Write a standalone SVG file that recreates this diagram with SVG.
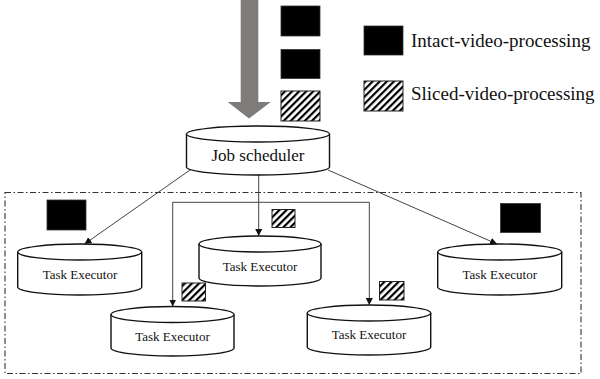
<svg xmlns="http://www.w3.org/2000/svg" width="600" height="379" viewBox="0 0 600 379">
  <defs>
    <pattern id="hatch" width="5" height="5" patternUnits="userSpaceOnUse" patternTransform="rotate(45)">
      <rect width="5" height="5" fill="#fff"/>
      <rect width="2.2" height="5" fill="#000"/>
    </pattern>
    <marker id="arrow" viewBox="0 0 10 10" refX="10" refY="5" markerWidth="7" markerHeight="7" orient="auto" markerUnits="userSpaceOnUse">
      <path d="M0,0 L10,5 L0,10 Z" fill="#111"/>
    </marker>
    <style>
      .cyl { fill: #fff; stroke: #111; stroke-width: 1.4; }
      .lbl { font-family: "Liberation Serif", "Times New Roman", serif; fill: #111; text-anchor: middle; }
      .task { font-size: 13px; }
      .legend { font-family: "Liberation Serif", "Times New Roman", serif; font-size: 19px; fill: #111; }
      .solid { fill: #000; stroke: #333; stroke-width: 0.8; }
      .hatched { fill: url(#hatch); stroke: #222; stroke-width: 1; }
      .conn { fill: none; stroke: #444; stroke-width: 1; }
      .frame { fill: none; stroke: #333; stroke-width: 1.1; stroke-dasharray: 6 2.5 1.5 2.5; }
    </style>
  </defs>

  <!-- executor pool boundary -->
  <rect class="frame" x="5" y="192.5" width="576" height="181"/>

  <!-- incoming job stream -->
  <g id="inflow">
    <path d="M240.7,0 L258.3,0 L258.3,102 L270.7,102 L249,118.5 L227.7,102 L240.7,102 Z" fill="#7f7b7b"/>
    <rect class="solid" x="281" y="6" width="39" height="30" fill="#111"/>
    <rect class="solid" x="281" y="49.5" width="39" height="29"/>
    <rect class="hatched" x="281" y="91" width="39" height="30"/>
  </g>

  <!-- legend -->
  <g id="legend">
    <rect class="solid" x="364" y="26" width="39" height="29"/>
    <text class="legend" x="411" y="47">Intact-video-processing</text>
    <rect class="hatched" x="364" y="81" width="39" height="30"/>
    <text class="legend" x="411" y="100">Sliced-video-processing</text>
  </g>

  <!-- connectors -->
  <g id="connectors">
    <line class="conn" x1="190" y1="170" x2="84.5" y2="244" marker-end="url(#arrow)"/>
    <line class="conn" x1="328" y1="170" x2="497" y2="244" marker-end="url(#arrow)"/>
    <line class="conn" x1="258.7" y1="175" x2="258.7" y2="236" marker-end="url(#arrow)"/>
    <path class="conn" d="M258.7,202.3 L172.7,202.3 L172.7,306.5" marker-end="url(#arrow)"/>
    <path class="conn" d="M258.7,202.3 L369.3,202.3 L369.3,305" marker-end="url(#arrow)"/>
  </g>

  <!-- scheduler -->
  <g id="job-scheduler">
    <path class="cyl" d="M186.5,134 L186.5,167 A71.5,8 0 0 0 329.5,167 L329.5,134"/>
    <ellipse class="cyl" cx="258" cy="134" rx="71.5" ry="8"/>
    <text class="lbl" x="258" y="161" font-size="17">Job scheduler</text>
  </g>

  <!-- executors -->
  <g id="executor-1">
    <path class="cyl" d="M17.7,252 L17.7,287 A62,8 0 0 0 141.7,287 L141.7,252"/>
    <ellipse class="cyl" cx="79.7" cy="252" rx="62" ry="8"/>
    <text class="lbl task" x="80" y="279">Task Executor</text>
    <rect class="solid" x="47" y="200" width="39" height="30"/>
  </g>

  <g id="executor-2">
    <path class="cyl" d="M199,244 L199,278 A61,8 0 0 0 321,278 L321,244"/>
    <ellipse class="cyl" cx="260" cy="244" rx="61" ry="8"/>
    <text class="lbl task" x="260" y="270.7">Task Executor</text>
    <rect class="hatched" x="272" y="209.5" width="23" height="18"/>
  </g>

  <g id="executor-3">
    <path class="cyl" d="M111,314.5 L111,348 A61.5,8 0 0 0 234,348 L234,314.5"/>
    <ellipse class="cyl" cx="172.5" cy="314.5" rx="61.5" ry="8"/>
    <text class="lbl task" x="172.5" y="341">Task Executor</text>
    <rect class="hatched" x="182" y="283" width="23.5" height="18"/>
  </g>

  <g id="executor-4">
    <path class="cyl" d="M307.3,313 L307.3,347 A61.7,8 0 0 0 430.7,347 L430.7,313"/>
    <ellipse class="cyl" cx="369" cy="313" rx="61.7" ry="8"/>
    <text class="lbl task" x="369" y="339.3">Task Executor</text>
    <rect class="hatched" x="379.5" y="281.5" width="24.5" height="18.5"/>
  </g>

  <g id="executor-5">
    <path class="cyl" d="M437.7,252 L437.7,287 A62,8 0 0 0 561.7,287 L561.7,252"/>
    <ellipse class="cyl" cx="499.7" cy="252" rx="62" ry="8"/>
    <text class="lbl task" x="499.7" y="278.7">Task Executor</text>
    <rect class="solid" x="500.5" y="203.5" width="40" height="29"/>
  </g>
</svg>
